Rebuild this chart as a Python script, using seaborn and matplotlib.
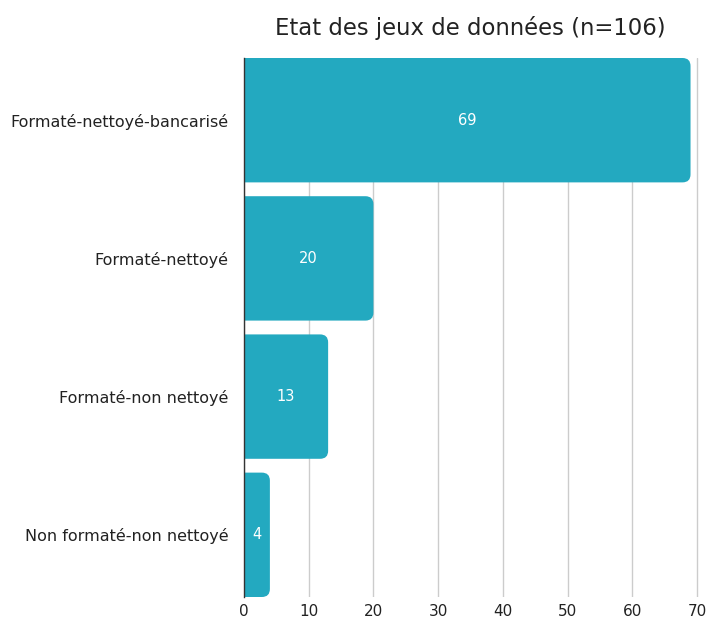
import matplotlib
matplotlib.use("Agg")
import matplotlib.pyplot as plt
import seaborn as sns
import pandas as pd
from matplotlib.patches import FancyBboxPatch

categories = ["Formaté-nettoyé-bancarisé", "Formaté-nettoyé", "Formaté-non nettoyé", "Non formaté-non nettoyé"]
values = [69, 20, 13, 4]
xticks = [0, 10, 20, 30, 40, 50, 60, 70]
title = "Etat des jeux de données (n=106)"

sns.set_theme(style="white")
plt.rcParams['font.family'] = ['DejaVu Sans']

df = pd.DataFrame({"cat": categories, "val": values})
fig = plt.figure(figsize=(7.07, 6.19), dpi=100)
x0px, x70px = 244, 697
top_px, bot_px = 58, 597
ax = fig.add_axes([x0px/707, (619-bot_px)/619, (x70px + 3 - x0px)/707, (bot_px - top_px)/619])
color = "#23A9C0"
sns.barplot(data=df, y="cat", x="val", orient="h", color=color, width=0.9, ax=ax, saturation=1)

px_x = (x70px - x0px) / 70.0
xmax = 70 + 3 / px_x
ax.set_xlim(0, xmax)
ax.set_ylim(3.45, -0.45)
px_y = (bot_px - top_px) / 3.9
r_px = 8
r = r_px / px_x
aspect = (r_px / px_y) / r
for p in list(ax.patches):
    bx, by = p.get_x(), p.get_y()
    w, h = p.get_width(), p.get_height()
    p.remove()
    fb = FancyBboxPatch((bx - 3, by), w + 3, h,
                        boxstyle=f"round,pad=0,rounding_size={r}",
                        mutation_aspect=aspect, facecolor=color, edgecolor="none",
                        zorder=2, clip_on=True)
    ax.add_patch(fb)

for i, v in enumerate(values):
    ax.text(v / 2, i, str(v), color="white", ha="center", va="center", fontsize=10.5)

ax.set_xticks(xticks)
ax.xaxis.grid(True, color="#cccccc", linewidth=1)
ax.set_axisbelow(True)
for s in ["top", "right", "bottom"]:
    ax.spines[s].set_visible(False)
ax.spines["left"].set_color("#333333")
ax.spines["left"].set_linewidth(1)
ax.tick_params(axis="both", length=0, colors="#222222")
ax.tick_params(axis="y", pad=11, labelsize=11.5)
ax.tick_params(axis="x", pad=5, labelsize=11)
ax.set_xlabel("")
ax.set_ylabel("")
fig.text(470/707, 1 - 28/619, title, ha="center", va="center", fontsize=16.4, color="#222222")
fig.savefig("out.png", dpi=100)
